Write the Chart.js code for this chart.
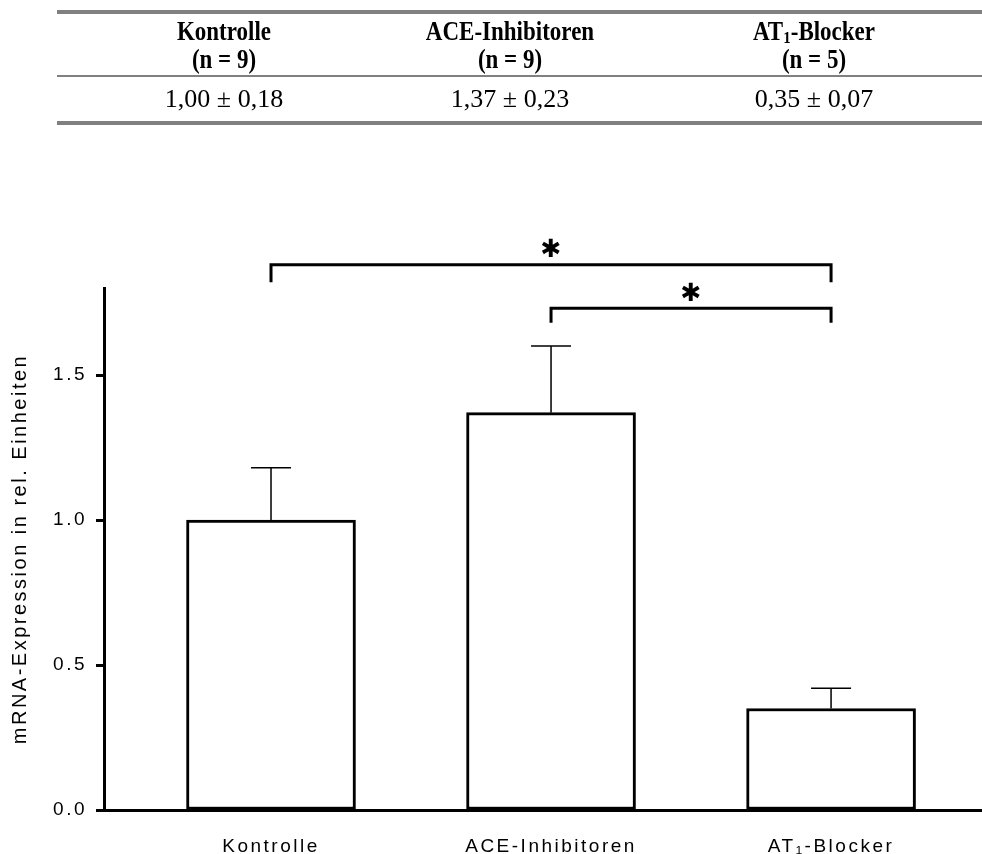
<!DOCTYPE html>
<html><head><meta charset="utf-8">
<script src="https://cdn.jsdelivr.net/npm/chart.js@4"></script>
<style>
html,body{margin:0;padding:0;background:#fff;width:982px;height:854px;overflow:hidden;}
#c{position:absolute;left:0;top:0;}
.tbl{position:absolute;left:0;top:0;width:982px;height:130px;font-family:"Liberation Serif","Times New Roman",serif;color:#000;z-index:2;}
.rule{position:absolute;left:57px;width:925px;background:#808080;}
.cell{position:absolute;width:360px;margin-left:-180px;text-align:center;font-size:23px;line-height:26px;white-space:nowrap;}
.h{font-weight:bold;transform:scaleY(1.15);}
.v{font-size:26px;}
sub{font-size:15px;line-height:0;vertical-align:-3px;}
</style></head>
<body>
<canvas id="c" width="982" height="854"></canvas>
<div class="tbl" id="tbl"></div>
<script>
// ---- data ----
const categories = ["Kontrolle", "ACE-Inhibitoren", "AT\u2081-Blocker"];
const tableHeaders = ["Kontrolle", "ACE-Inhibitoren", "AT<sub>1</sub>-Blocker"];
const groupSizes = ["(n = 9)", "(n = 9)", "(n = 5)"];
const meanValues = [1.00, 1.37, 0.35];
const semValues = [0.18, 0.23, 0.07];
const yTicks = [0, 0.5, 1.0, 1.5];
const bracketFrom = [0, 1];
const bracketTo = [2, 2];
const bracketLevel = [1.88, 1.73];
const bracketDrop = [0.06, 0.05];
const bracketLabel = ["\u2731", "\u2731"];

// ---- table ----
const fmt = v => v.toFixed(2).replace('.', ',');
const colX = [224, 510, 814];
const tbl = document.getElementById('tbl');
let html = '';
html += '<div class="rule" style="top:10px;height:4px"></div>';
html += '<div class="rule" style="top:75px;height:2px"></div>';
html += '<div class="rule" style="top:121px;height:4px"></div>';
colX.forEach((cx, i) => {
  html += `<div class="cell h" style="left:${cx}px;top:19px">${tableHeaders[i]}</div>`;
  html += `<div class="cell h" style="left:${cx}px;top:47px">${groupSizes[i]}</div>`;
  html += `<div class="cell v" style="left:${cx}px;top:86px">${fmt(meanValues[i])} \u00b1 ${fmt(semValues[i])}</div>`;
});
tbl.innerHTML = html;

// ---- chart ----
const FONT = '"Liberation Sans", Arial, sans-serif';
Chart.defaults.font.family = FONT;
Chart.defaults.color = '#000';

const spacingPlugin = {
  id: 'spacing',
  beforeLayout(c) { c.ctx.letterSpacing = '2.5px'; },
  beforeDraw(c) { c.ctx.letterSpacing = '2.5px'; }
};

const errorBarPlugin = {
  id: 'errbars',
  afterDatasetsDraw(chart) {
    const {ctx, scales: {x, y}} = chart;
    ctx.save();
    ctx.strokeStyle = '#000';
    ctx.lineWidth = 1.5;
    meanValues.forEach((m, i) => {
      const px = x.getPixelForValue(i);
      const y0 = y.getPixelForValue(m);
      const y1 = y.getPixelForValue(m + semValues[i]);
      ctx.beginPath();
      ctx.moveTo(px, y0); ctx.lineTo(px, y1);
      ctx.moveTo(px - 20, y1); ctx.lineTo(px + 20, y1);
      ctx.stroke();
    });
    ctx.restore();
  }
};

const bracketPlugin = {
  id: 'brackets',
  afterDraw(chart) {
    const {ctx, scales: {x, y}} = chart;
    ctx.save();
    ctx.letterSpacing = '0px';
    ctx.strokeStyle = '#000';
    ctx.fillStyle = '#000';
    ctx.lineWidth = 3;
    ctx.lineJoin = 'miter';
    bracketFrom.forEach((f, i) => {
      const x1 = x.getPixelForValue(f);
      const x2 = x.getPixelForValue(bracketTo[i]);
      const yl = y.getPixelForValue(bracketLevel[i]);
      const yd = y.getPixelForValue(bracketLevel[i] - bracketDrop[i]);
      ctx.beginPath();
      ctx.moveTo(x1, yd); ctx.lineTo(x1, yl); ctx.lineTo(x2, yl); ctx.lineTo(x2, yd);
      ctx.stroke();
      ctx.font = 'bold 25px "DejaVu Sans", sans-serif';
      ctx.textAlign = 'center';
      ctx.textBaseline = 'middle';
      ctx.fillText(bracketLabel[i], (x1 + x2) / 2, yl - 14);
    });
    ctx.restore();
  }
};

new Chart(document.getElementById('c').getContext('2d'), {
  type: 'bar',
  data: {
    datasets: [{
      data: meanValues.map((v, i) => ({x: i, y: v})),
      backgroundColor: '#fff',
      borderColor: '#000',
      borderWidth: 3,
      borderSkipped: false,
      barThickness: 169
    }]
  },
  options: {
    responsive: false,
    animation: false,
    events: [],
    layout: {padding: {left: 0, right: 0, top: 288, bottom: 0}},
    plugins: {legend: {display: false}, tooltip: {enabled: false}},
    scales: {
      x: {
        type: 'linear',
        min: -0.5964,
        max: 2.539,
        offset: false,
        grid: {display: false},
        border: {display: true, color: '#000', width: 3},
        afterBuildTicks: ax => { ax.ticks = categories.map((_, i) => ({value: i})); },
        afterFit: ax => { ax.height = 44; },
        ticks: {
          callback: v => categories[v],
          color: '#000',
          font: {size: 19},
          padding: 17,
          maxRotation: 0,
          autoSkip: false
        }
      },
      y: {
        min: 0,
        max: 1.8,
        afterBuildTicks: ax => { ax.ticks = yTicks.map(v => ({value: v})); },
        afterFit: ax => { ax.width = 104; },
        grid: {display: true, drawOnChartArea: false, drawTicks: true, tickLength: 8, tickWidth: 3, tickColor: '#000'},
        border: {display: true, color: '#000', width: 3},
        ticks: {callback: v => v.toFixed(1), padding: 9, color: '#000', font: {size: 19}},
        title: {display: true, text: 'mRNA-Expression in rel. Einheiten', color: '#000', font: {size: 20}, padding: {top: 8, bottom: 0}}
      }
    }
  },
  plugins: [spacingPlugin, errorBarPlugin, bracketPlugin]
});
</script>
</body></html>
